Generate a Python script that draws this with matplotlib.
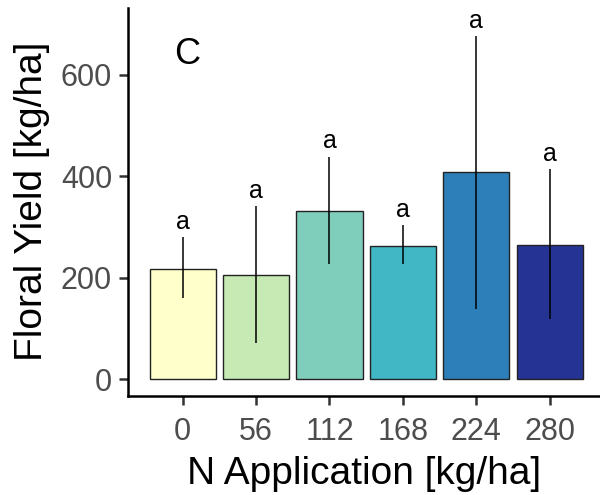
import numpy as np
import matplotlib.pyplot as plt

# N rate treatments and floral yield summary (mean with error bar limits)
n_rate = ["0", "56", "112", "168", "224", "280"]
yield_mean = [218, 206, 331, 262, 408, 265]
err_low = [161, 72, 227, 227, 138, 120]
err_high = [281, 342, 439, 304, 677, 414]
letters = ["a", "a", "a", "a", "a", "a"]
bar_colors = ["#ffffcc", "#c7e9b4", "#7fcdbb", "#41b6c4", "#2c7fb8", "#253494"]

plt.rcParams['font.family'] = ['Liberation Sans', 'DejaVu Sans']

fig = plt.figure(figsize=(6, 4.95), dpi=100)
ax = fig.add_axes([0.2133, 0.2006, 0.7867, 0.7834])

x = np.arange(len(n_rate))
ax.bar(x, yield_mean, width=0.9, color=bar_colors, edgecolor="#222222",
       linewidth=1.0, zorder=2)
ax.vlines(x, err_low, err_high, color="black", linewidth=1.1, zorder=3)

# significance letters sit just above each error bar
for xi, top, lab in zip(x, err_high, letters):
    ax.annotate(lab, (xi, top), xytext=(0, 6), textcoords="offset points",
                ha="center", va="baseline", fontsize=18, color="black",
                annotation_clip=False)

ax.text(0.125, 0.88, "C", transform=ax.transAxes, fontsize=26,
        ha="center", va="center")

ax.set_xlim(-0.745, 5.685)
ax.set_ylim(-32, 732)
ax.set_xticks(x)
ax.set_xticklabels(n_rate)
ax.set_yticks([0, 200, 400, 600])

for side in ["top", "right"]:
    ax.spines[side].set_visible(False)
for side in ["left", "bottom"]:
    ax.spines[side].set_linewidth(1.8)
ax.tick_params(axis="both", length=6.5, width=1.8, color="#333333",
               labelsize=22, labelcolor="#4d4d4d", pad=5)
ax.tick_params(axis="x", pad=8.5)

ax.set_xlabel("N Application [kg/ha]", fontsize=28, labelpad=7)
ax.set_ylabel("Floral Yield [kg/ha]", fontsize=28, labelpad=7.5)

fig.savefig("out.png", dpi=100)
